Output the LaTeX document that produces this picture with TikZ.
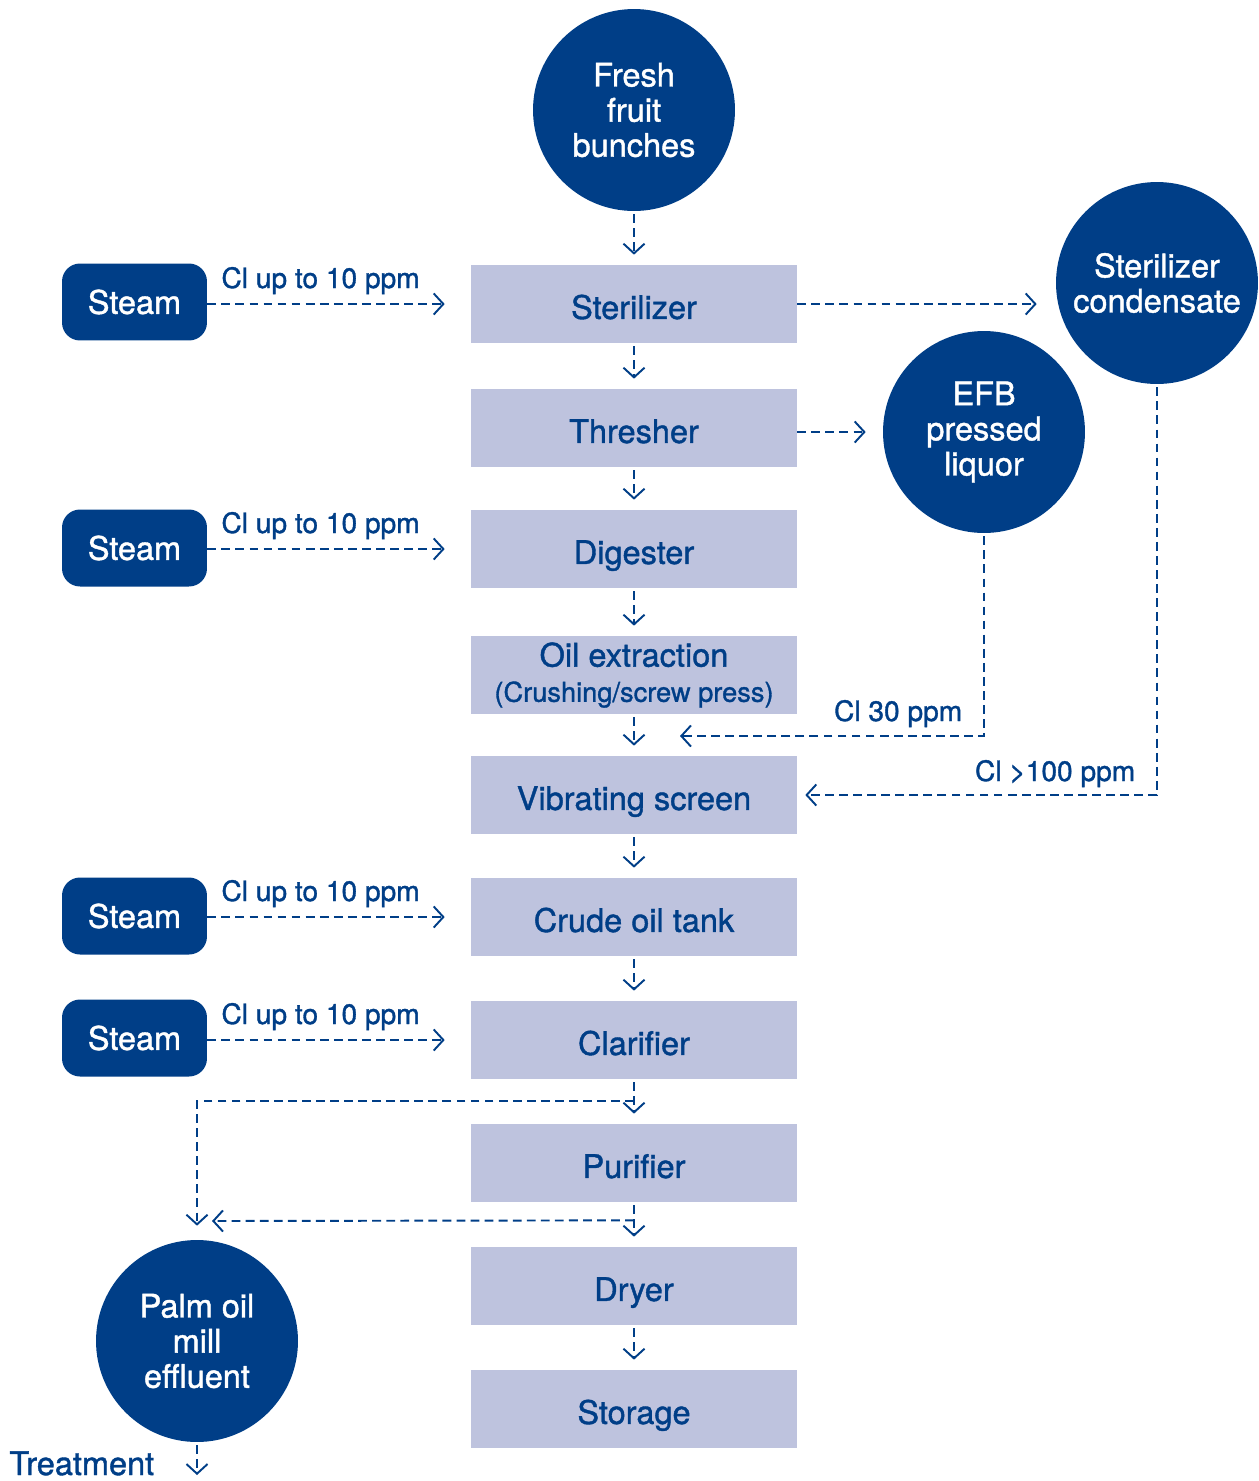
\documentclass[tikz,border=0pt]{standalone}
\usepackage{fontspec}
\setmainfont{TeX Gyre Heros}[FakeBold=1.2]
\usetikzlibrary{arrows.meta}

\definecolor{millblue}{RGB}{0,62,135}
\definecolor{milllight}{RGB}{190,195,222}

\begin{document}
\begin{tikzpicture}[x=0.02cm,y=-0.02cm,
        box/.style={fill=milllight,text=millblue,minimum width=6.52cm,minimum height=1.56cm,text height=17.5pt,text depth=0.5pt,font=\fontsize{18.5}{20}\selectfont},
        steam/.style={fill=millblue,text=white,rounded corners=0.36cm,minimum width=2.9cm,minimum height=1.54cm,font=\fontsize{18.5}{20}\selectfont},
        ball/.style={circle,fill=millblue,text=white,minimum size=4.04cm,align=center,font=\fontsize{18.5}{20}\selectfont},
        flow/.style={millblue,line width=1.1pt,dash pattern=on 5pt off 3pt,-{Straight Barb[length=5.5pt,width=12pt]}},
        lbl/.style={text=millblue,font=\fontsize{16}{18}\selectfont}]
            % \draw[help lines] (0,0) grid (1258,1481);
            \useasboundingbox (0,0) rectangle (1258,1481);
            \node[ball] (ffb) at (634,110) {Fresh\\fruit\\bunches};
            \node[ball] (cond) at (1157,283) {Sterilizer\\condensate};
            \node[ball] (efb) at (984,432) {EFB\\pressed\\liquor};
            \node[ball] (pome) at (197,1341) {Palm oil\\mill\\effluent};
            \foreach \y/\name/\txt in {304/ster/Sterilizer,428/thr/Thresher,549/dig/Digester,795/vib/Vibrating screen,917/crude/Crude oil tank,1040/clar/Clarifier,1163/pur/Purifier,1286/dry/Dryer,1409/stor/Storage}{
                \node[box,name=\name] at (634,\y) {\txt};
            }
            \node[box,align=center,text height=,text depth=] (oil) at (634,675) {Oil extraction\\{\fontsize{15.5}{17}\selectfont(Crushing/screw press)}};
            \foreach \y/\name in {302/s1,548/s2,916/s3,1038/s4}{
                \node[steam,name=\name] at (134.5,\y) {Steam};
            }
            \node[text=millblue,anchor=base west,inner sep=0pt,font=\fontsize{18.5}{20}\selectfont] (treat) at (9,1475) {Treatment};
            \coordinate (e30) at (680,736);
            \coordinate (pe) at (212,1221);
            % main line
            \foreach \from/\to in {ffb/ster,ster/thr,thr/dig,dig/oil,oil/vib,vib/crude,crude/clar,clar/pur,pur/dry,dry/stor} {
                \draw[flow,shorten <=0.06cm,shorten >=0.2cm] (\from.south) -- (\to.north);
            }
            \foreach \from/\to in {s1/ster,s2/dig,s3/crude,s4/clar} {
                \draw[flow,shorten >=0.52cm] (\from.east |- \to) -- (\to) node[lbl,pos=0.43,anchor=base,yshift=0.32cm] {Cl up to 10 ppm};
            }
            % side streams
            \draw[flow,shorten >=0.38cm] (ster.east) -- (ster.east -| cond.west);
            \draw[flow,shorten >=0.34cm] (thr.east |- efb) -- (efb);
            \draw[flow,shorten <=0.06cm] (efb.south) |- (e30) node[lbl,pos=0.5,anchor=base east,xshift=-0.3cm,yshift=0.3cm] {Cl 30 ppm};
            \draw[flow,shorten <=0.06cm,shorten >=0.16cm] (cond.south) |- (vib.east) node[lbl,pos=0.5,anchor=base east,xshift=-0.3cm,yshift=0.28cm] {Cl >100 ppm};
            \draw[flow,shorten >=0.28cm] (clar.south) ++(0,22) -| (pome);
            \draw[flow] (pur.south) ++(0,18) -- (pe);
            \draw[flow,shorten <=0.06cm] (pome.south) -- (pome.south |- treat.base);
        \end{tikzpicture}
\end{document}
